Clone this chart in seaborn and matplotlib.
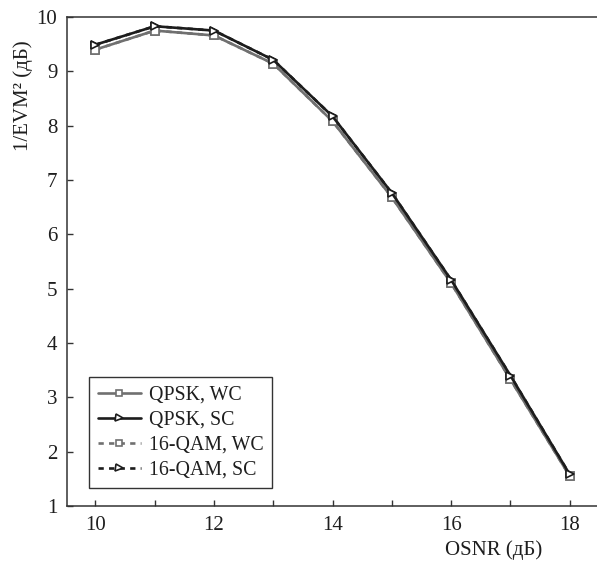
import matplotlib
matplotlib.use("Agg")
import matplotlib.pyplot as plt
from matplotlib.ticker import MultipleLocator
import numpy as np
import pandas as pd
import seaborn as sns

# OSNR sweep (dB) and measured 1/EVM^2 (dB) for each modulation / configuration
osnr = [10, 11, 12, 13, 14, 15, 16, 17, 18]
qpsk_wc = [9.40, 9.75, 9.66, 9.14, 8.08, 6.68, 5.10, 3.33, 1.55]
qpsk_sc = [9.49, 9.83, 9.75, 9.21, 8.17, 6.76, 5.16, 3.40, 1.58]
qam16_wc = [9.40, 9.75, 9.66, 9.14, 8.08, 6.68, 5.10, 3.33, 1.55]
qam16_sc = [9.49, 9.83, 9.75, 9.21, 8.17, 6.76, 5.16, 3.40, 1.58]

series_names = ["QPSK, WC", "QPSK, SC", "16-QAM, WC", "16-QAM, SC"]
x_ticks = [10, 12, 14, 16, 18]
y_ticks = [1, 2, 3, 4, 5, 6, 7, 8, 9, 10]

df = pd.concat([
    pd.DataFrame({"osnr": osnr, "val": v, "series": n})
    for n, v in zip(series_names, [qpsk_wc, qpsk_sc, qam16_wc, qam16_sc])
], ignore_index=True)

sns.set_theme(style="ticks")
plt.rcParams["font.family"] = ["Liberation Serif", "DejaVu Serif"]

GRAY = "#707070"
BLACK = "#1c1c1c"
DASH = (0, (2.0, 2.0))
styles = {
    "QPSK, WC": dict(color=GRAY, marker="s", ms=5.2, ls="-"),
    "QPSK, SC": dict(color=BLACK, marker=">", ms=6.3, ls="-"),
    "16-QAM, WC": dict(color=GRAY, marker="s", ms=5.2, ls=DASH),
    "16-QAM, SC": dict(color=BLACK, marker=">", ms=6.3, ls=DASH),
}

fig = plt.figure(figsize=(5.97, 5.66), dpi=100)
ax = fig.add_axes([67 / 597, 60 / 566, 1 - 67 / 597, (506 - 17) / 566])

# dashed 16-QAM curves first so the solid QPSK curves sit on top
handles = {}
for name in ["16-QAM, WC", "16-QAM, SC", "QPSK, WC", "QPSK, SC"]:
    st = styles[name]
    sub = df[df["series"] == name]
    sns.lineplot(data=sub, x="osnr", y="val", ax=ax, color=st["color"],
                 linestyle=st["ls"], linewidth=1.9, marker=st["marker"],
                 markersize=st["ms"], markerfacecolor="white",
                 markeredgecolor=st["color"], markeredgewidth=1.2,
                 label=name, legend=False)
    handles[name] = ax.lines[-1]

ax.set_xlim(9.52, 18.46)
ax.set_ylim(1, 10)
ax.set_xticks(x_ticks)
ax.xaxis.set_minor_locator(MultipleLocator(1))
ax.set_yticks(y_ticks)

for side in ["left", "bottom", "top"]:
    ax.spines[side].set_color("#333333")
    ax.spines[side].set_linewidth(1.1)
ax.spines["right"].set_visible(False)

ax.tick_params(axis="both", which="both", direction="in", length=4.5,
               width=1.0, color="#333333", labelsize=15, labelcolor="#1e1e1e")
ax.tick_params(axis="x", which="major", pad=7)
ax.tick_params(axis="y", which="major", pad=7)

ax.set_xlabel("OSNR (дБ)", fontsize=15, color="#1e1e1e")
ax.xaxis.set_label_coords(0.805, -0.07)
ax.set_ylabel("1/EVM² (дБ)", fontsize=15, color="#1e1e1e")
ax.yaxis.set_label_coords(-0.065, 0.84)

leg = ax.legend([handles[n] for n in series_names], series_names,
                loc="lower left", bbox_to_anchor=(0.0415, 0.036),
                borderaxespad=0, fontsize=14.3, frameon=True, fancybox=False,
                framealpha=1, edgecolor="#333333", handlelength=2.15,
                handletextpad=0.4, labelspacing=0.3, borderpad=0.45,
                markerscale=0.8)
leg.get_frame().set_linewidth(1.0)
for t in leg.get_texts():
    t.set_color("#1e1e1e")

fig.savefig("out.png", dpi=100)
